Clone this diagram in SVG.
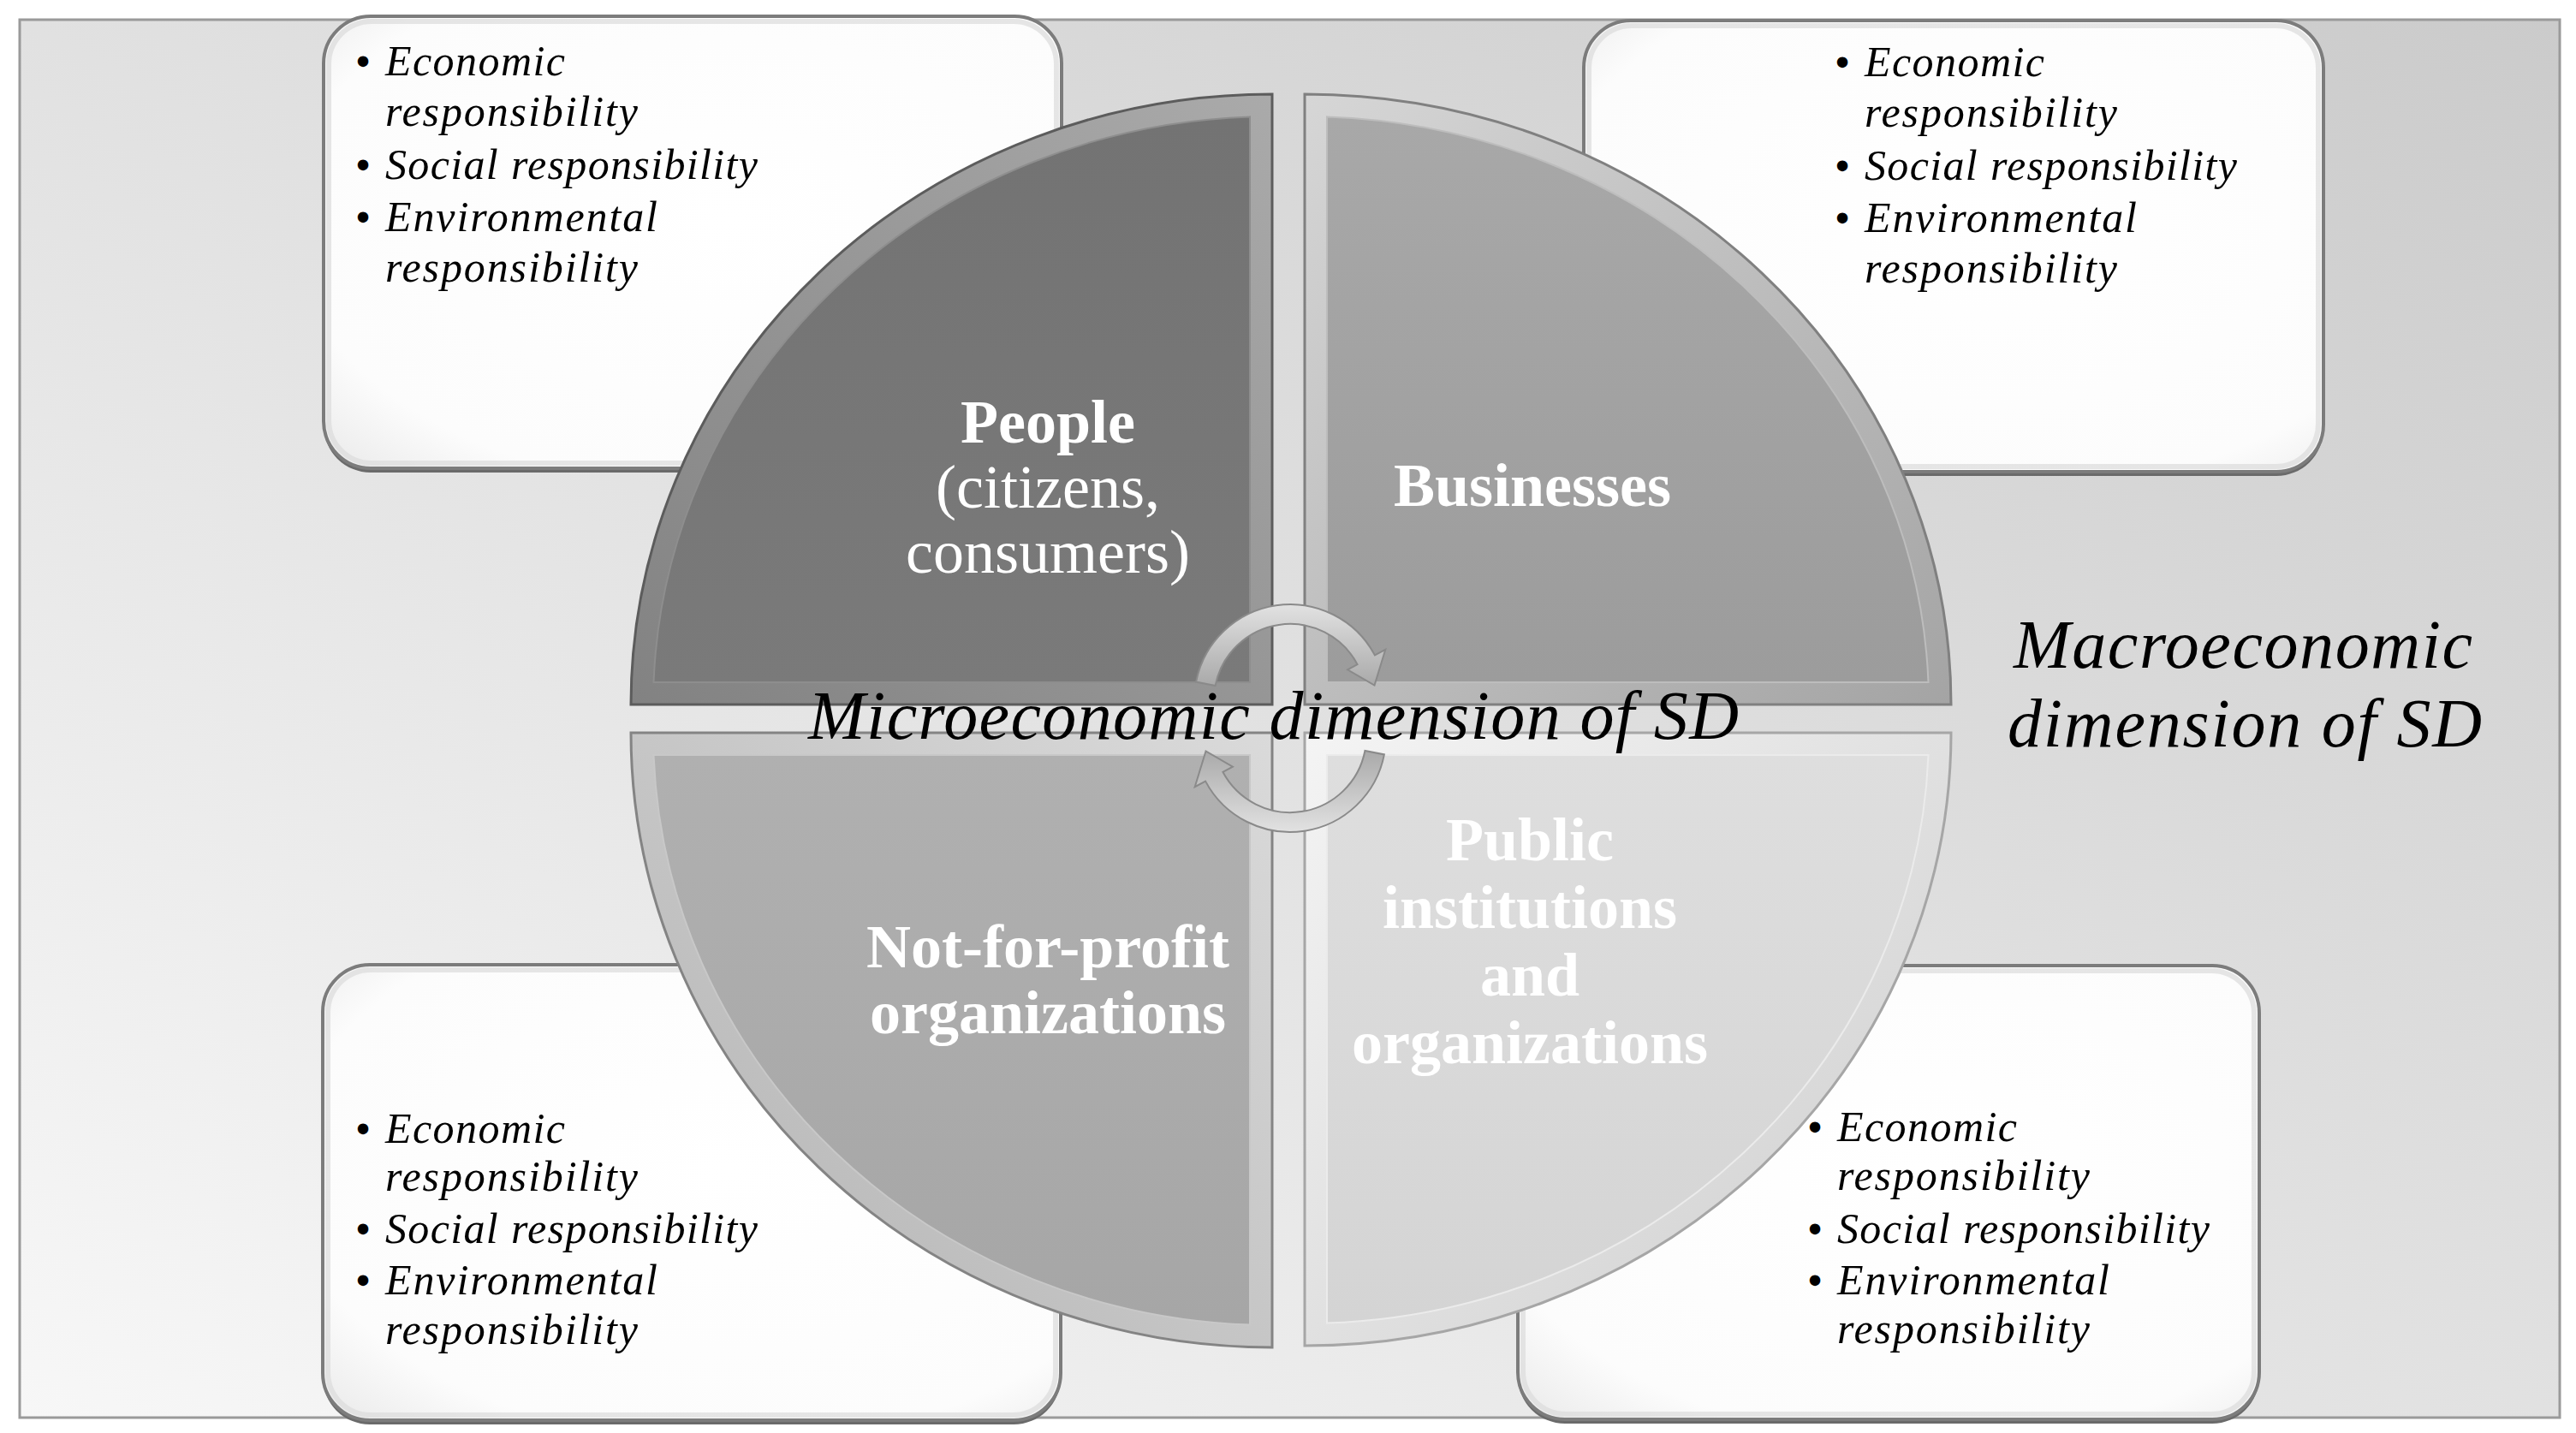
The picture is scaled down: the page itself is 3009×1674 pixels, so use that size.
<svg xmlns="http://www.w3.org/2000/svg" width="3009" height="1674" viewBox="0 0 3009 1674">
<defs>
<style>
.bt{font-family:"Liberation Serif","Times New Roman",serif;font-style:italic;font-size:50px;fill:#000}
.bu{font-family:"Liberation Serif","Times New Roman",serif;font-weight:bold;font-size:46px;fill:#000}
.ql{font-family:"Liberation Serif","Times New Roman",serif;font-weight:bold;font-size:72px;fill:#fff;text-anchor:middle}
.qr{font-family:"Liberation Serif","Times New Roman",serif;font-weight:normal;font-size:72px;fill:#fff;text-anchor:middle}
.big{font-family:"Liberation Serif","Times New Roman",serif;font-style:italic;font-size:80px;fill:#000}
.box{fill:url(#boxGrad);stroke:#7c7c7c;stroke-width:4}
.boxsh{fill:#6a6a6a}
.boxin{fill:none;stroke:#dcdcdc;stroke-width:6;opacity:.7}
.arr{fill:url(#arrGrad);stroke:#8a8a8a;stroke-width:2}
</style>
<linearGradient id="bgGrad" x1="0" y1="1" x2="1" y2="0">
<stop offset="0" stop-color="#f7f7f7"/>
<stop offset="1" stop-color="#cbcbcb"/>
</linearGradient>
<radialGradient id="boxGrad" cx="0.55" cy="0.45" r="0.75">
<stop offset="0" stop-color="#ffffff"/>
<stop offset="0.8" stop-color="#fcfcfc"/>
<stop offset="1" stop-color="#ececec"/>
</radialGradient>
<linearGradient id="arrGrad" x1="0" y1="0" x2="0" y2="1">
<stop offset="0" stop-color="#e2e2e2"/>
<stop offset="1" stop-color="#a9a9a9"/>
</linearGradient>
<linearGradient id="tlBand" x1="1" y1="0" x2="0" y2="1">
<stop offset="0" stop-color="#aaaaaa"/>
<stop offset="1" stop-color="#828282"/>
</linearGradient>
<linearGradient id="tlMain" x1="0" y1="0" x2="0" y2="1">
<stop offset="0" stop-color="#737373"/>
<stop offset="1" stop-color="#7a7a7a"/>
</linearGradient>
<linearGradient id="trBand" x1="0" y1="0" x2="1" y2="1">
<stop offset="0" stop-color="#d6d6d6"/>
<stop offset="1" stop-color="#a4a4a4"/>
</linearGradient>
<linearGradient id="trMain" x1="0" y1="0" x2="0" y2="1">
<stop offset="0" stop-color="#a8a8a8"/>
<stop offset="1" stop-color="#9c9c9c"/>
</linearGradient>
<linearGradient id="blBand" x1="1" y1="0" x2="0" y2="1">
<stop offset="0" stop-color="#dadada"/>
<stop offset="1" stop-color="#b2b2b2"/>
</linearGradient>
<linearGradient id="blMain" x1="0" y1="0" x2="0" y2="1">
<stop offset="0" stop-color="#b0b0b0"/>
<stop offset="1" stop-color="#a6a6a6"/>
</linearGradient>
<linearGradient id="brBand" x1="0" y1="0" x2="1" y2="1">
<stop offset="0" stop-color="#f4f4f4"/>
<stop offset="1" stop-color="#cdcdcd"/>
</linearGradient>
<linearGradient id="brMain" x1="0" y1="0" x2="0" y2="1">
<stop offset="0" stop-color="#dedede"/>
<stop offset="1" stop-color="#d4d4d4"/>
</linearGradient>
</defs>

<rect x="0" y="0" width="3009" height="1674" fill="#ffffff"/>
<rect id="frame" x="23" y="23" width="2967" height="1633" fill="url(#bgGrad)" stroke="#9a9a9a" stroke-width="3"/>

<g id="box-tl">
<rect class="boxsh" x="378" y="24" width="862" height="528" rx="55"/>
<rect class="box" x="378" y="19" width="862" height="528" rx="55"/>
<rect class="boxin" x="384" y="25" width="850" height="516" rx="50"/>
<text class="bu" x="416" y="87">•</text><text class="bt" x="450" y="88" textLength="210" lengthAdjust="spacing">Economic</text>
<text class="bt" x="450" y="147" textLength="295" lengthAdjust="spacing">responsibility</text>
<text class="bu" x="416" y="208">•</text><text class="bt" x="450" y="209" textLength="435" lengthAdjust="spacing">Social responsibility</text>
<text class="bu" x="416" y="269">•</text><text class="bt" x="450" y="270" textLength="318" lengthAdjust="spacing">Environmental</text>
<text class="bt" x="450" y="329" textLength="295" lengthAdjust="spacing">responsibility</text>
</g>

<g id="box-tr">
<rect class="boxsh" x="1850" y="29" width="864" height="527" rx="55"/>
<rect class="box" x="1850" y="24" width="864" height="527" rx="55"/>
<rect class="boxin" x="1856" y="30" width="852" height="515" rx="50"/>
<text class="bu" x="2144" y="88">•</text><text class="bt" x="2178" y="89" textLength="210" lengthAdjust="spacing">Economic</text>
<text class="bt" x="2178" y="148" textLength="295" lengthAdjust="spacing">responsibility</text>
<text class="bu" x="2144" y="209">•</text><text class="bt" x="2178" y="210" textLength="435" lengthAdjust="spacing">Social responsibility</text>
<text class="bu" x="2144" y="270">•</text><text class="bt" x="2178" y="271" textLength="318" lengthAdjust="spacing">Environmental</text>
<text class="bt" x="2178" y="330" textLength="295" lengthAdjust="spacing">responsibility</text>
</g>

<g id="box-bl">
<rect class="boxsh" x="377" y="1132" width="862" height="532" rx="55"/>
<rect class="box" x="377" y="1127" width="862" height="532" rx="55"/>
<rect class="boxin" x="383" y="1133" width="850" height="520" rx="50"/>
<text class="bu" x="416" y="1334">•</text><text class="bt" x="450" y="1335" textLength="210" lengthAdjust="spacing">Economic</text>
<text class="bt" x="450" y="1391" textLength="295" lengthAdjust="spacing">responsibility</text>
<text class="bu" x="416" y="1451">•</text><text class="bt" x="450" y="1452" textLength="435" lengthAdjust="spacing">Social responsibility</text>
<text class="bu" x="416" y="1511">•</text><text class="bt" x="450" y="1512" textLength="318" lengthAdjust="spacing">Environmental</text>
<text class="bt" x="450" y="1570" textLength="295" lengthAdjust="spacing">responsibility</text>
</g>

<g id="box-br">
<rect class="boxsh" x="1773" y="1133" width="866" height="530" rx="55"/>
<rect class="box" x="1773" y="1128" width="866" height="530" rx="55"/>
<rect class="boxin" x="1779" y="1134" width="854" height="518" rx="50"/>
<text class="bu" x="2112" y="1332">•</text><text class="bt" x="2146" y="1333" textLength="210" lengthAdjust="spacing">Economic</text>
<text class="bt" x="2146" y="1390" textLength="295" lengthAdjust="spacing">responsibility</text>
<text class="bu" x="2112" y="1451">•</text><text class="bt" x="2146" y="1452" textLength="435" lengthAdjust="spacing">Social responsibility</text>
<text class="bu" x="2112" y="1511">•</text><text class="bt" x="2146" y="1512" textLength="318" lengthAdjust="spacing">Environmental</text>
<text class="bt" x="2146" y="1569" textLength="295" lengthAdjust="spacing">responsibility</text>
</g>

<g id="q-people">
<path d="M1486 823 L737 823 A749 713 0 0 1 1486 110 Z" fill="url(#tlBand)" stroke="#5c5c5c" stroke-width="3"/>
<path d="M1460 797 L763.5 797 A723 687 0 0 1 1460 136.4 Z" fill="url(#tlMain)" stroke="#8e8e8e" stroke-width="2"/>
<text class="ql" x="1224" y="517">People</text>
<text class="qr" x="1224" y="593">(citizens,</text>
<text class="qr" x="1224" y="669">consumers)</text>
</g>

<g id="q-businesses">
<path d="M1524 823 L1524 110 A755 713 0 0 1 2279 823 Z" fill="url(#trBand)" stroke="#808080" stroke-width="3"/>
<path d="M1550 797 L1550 136.4 A729 687 0 0 1 2252.5 797 Z" fill="url(#trMain)" stroke="#bdbdbd" stroke-width="2"/>
<text class="ql" x="1790" y="591">Businesses</text>
</g>

<g id="q-nonprofit">
<path d="M1486 856 L1486 1574 A749 718 0 0 1 737 856 Z" fill="url(#blBand)" stroke="#848484" stroke-width="3"/>
<path d="M1460 882 L1460 1547.6 A723 692 0 0 1 763.5 882 Z" fill="url(#blMain)" stroke="#c8c8c8" stroke-width="2"/>
<text class="ql" x="1224" y="1130">Not-for-profit</text>
<text class="ql" x="1224" y="1207">organizations</text>
</g>

<g id="q-public">
<path d="M1524 856 L2279 856 A755 716 0 0 1 1524 1572 Z" fill="url(#brBand)" stroke="#a6a6a6" stroke-width="3"/>
<path d="M1550 882 L2252.5 882 A729 690 0 0 1 1550 1545.6 Z" fill="url(#brMain)" stroke="#ebebeb" stroke-width="2"/>
<text class="ql" x="1787" y="1005">Public</text>
<text class="ql" x="1787" y="1084">institutions</text>
<text class="ql" x="1787" y="1163">and</text>
<text class="ql" x="1787" y="1242">organizations</text>
</g>

<g id="connectors">
<path class="arr" d="M1397.1 796.6 A112 112 0 0 1 1605.9 765.4 L1618.3 758.8 L1605.5 800.6 L1574.1 782.3 L1585.6 776.2 A89 89 0 0 0 1419.6 801 Z"/>
<path class="arr" transform="rotate(180 1507 839)" d="M1397.1 796.6 A112 112 0 0 1 1605.9 765.4 L1618.3 758.8 L1605.5 800.6 L1574.1 782.3 L1585.6 776.2 A89 89 0 0 0 1419.6 801 Z"/>
</g>

<g id="micro-label">
<text class="big" x="944" y="863" textLength="1087" lengthAdjust="spacing">Microeconomic dimension of SD</text>
</g>

<g id="macro-label">
<text class="big" x="2352" y="780" textLength="536" lengthAdjust="spacing">Macroeconomic</text>
<text class="big" x="2345" y="872" textLength="554" lengthAdjust="spacing">dimension of SD</text>
</g>
</svg>
